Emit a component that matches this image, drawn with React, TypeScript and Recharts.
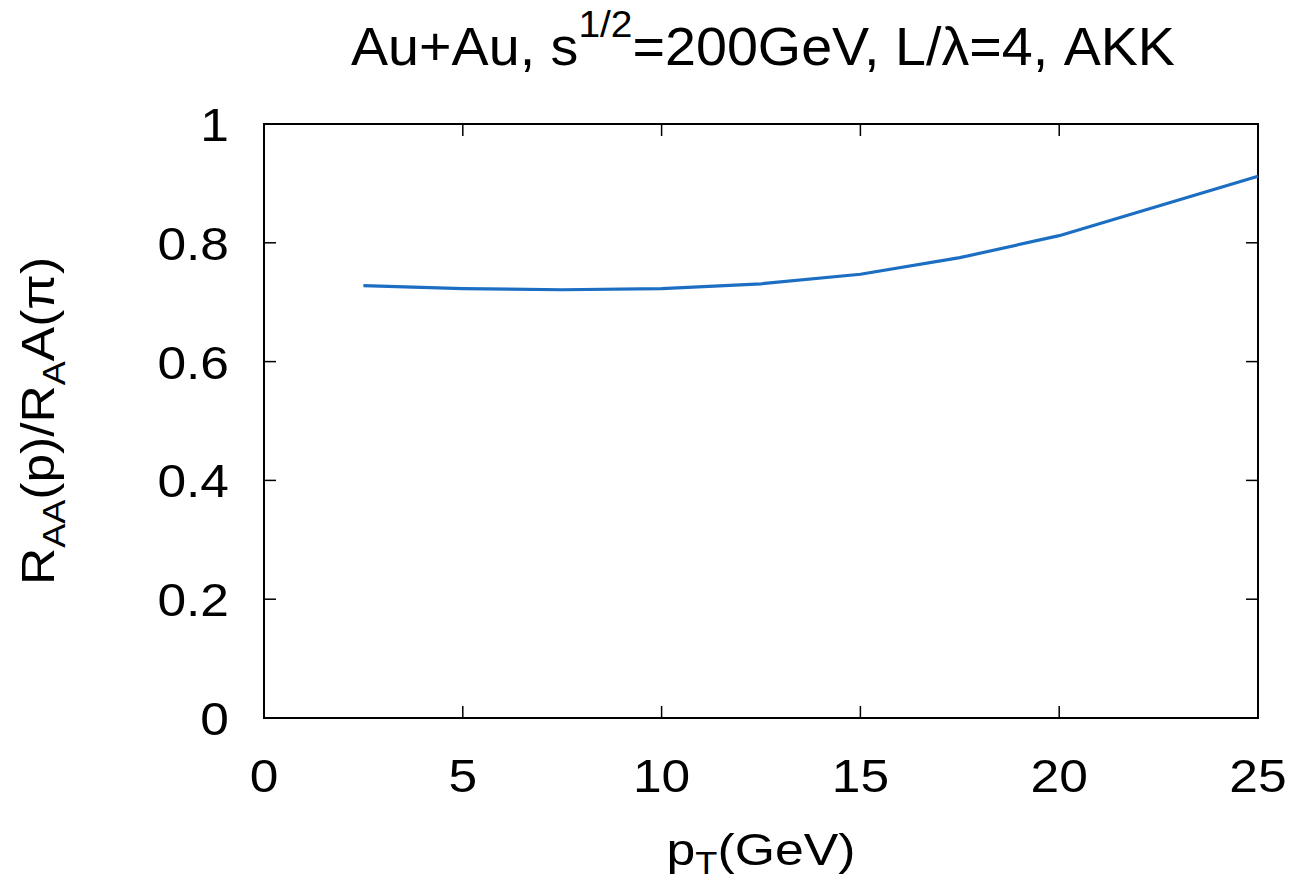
import React from "react";
import { LineChart, Line, XAxis, YAxis, ReferenceArea } from "recharts";

// curve
const ptValues = [2.5, 5, 7.5, 10, 12.5, 15, 17.5, 20, 22.5, 25];
const ratioValues = [0.728, 0.723, 0.721, 0.723, 0.731, 0.747, 0.775, 0.812, 0.862, 0.912];

const xTicks = [0, 5, 10, 15, 20, 25];
const yTicks = [0, 0.2, 0.4, 0.6, 0.8, 1];

const W = 1301;
const H = 883;
const MARGIN = { top: 124, right: 43, bottom: 0, left: 0 };
const Y_AXIS_W = 264;
const X_AXIS_H = 165;
const PLOT_W = W - Y_AXIS_W - MARGIN.right;
const PLOT_H = H - MARGIN.top - X_AXIS_H;

const FONT = '"Liberation Sans", Arial, Helvetica, sans-serif';
const TICK_LEN = 12;

const data = ptValues.map((pt, i) => ({ pt, ratio: ratioValues[i] }));

function XTick(props: any) {
    const { x, y, payload } = props;
    return (
        <g>
            <line x1={x} x2={x} y1={y} y2={y - TICK_LEN} stroke="#000" strokeWidth={1.5} />
            <line x1={x} x2={x} y1={y - PLOT_H} y2={y - PLOT_H + TICK_LEN} stroke="#000" strokeWidth={1.5} />
            <text
                transform={`translate(${x},${y + 74}) scale(1.12,1)`}
                textAnchor="middle"
                fontSize={46}
                fontFamily={FONT}
                fill="#000"
            >
                {payload.value}
            </text>
        </g>
    );
}

function YTick(props: any) {
    const { x, y, payload } = props;
    return (
        <g>
            <line x1={x} x2={x + TICK_LEN} y1={y} y2={y} stroke="#000" strokeWidth={1.5} />
            <line x1={x + PLOT_W} x2={x + PLOT_W - TICK_LEN} y1={y} y2={y} stroke="#000" strokeWidth={1.5} />
            <text
                transform={`translate(${x - 35},${y + 17}) scale(1.12,1)`}
                textAnchor="end"
                fontSize={46}
                fontFamily={FONT}
                fill="#000"
            >
                {String(payload.value)}
            </text>
        </g>
    );
}

const sub = (s: string, drop = "0.35em") => (
    <span style={{ fontSize: "0.7em", position: "relative", top: drop }}>{s}</span>
);

export default function App() {
    return (
        <div style={{ position: "absolute", left: 0, top: 0, width: W, height: H, background: "#fff", fontFamily: FONT }}>
            {/* title */}
            <div
                style={{
                    position: "absolute",
                    left: 763,
                    top: 20,
                    fontSize: 53,
                    lineHeight: 1,
                    whiteSpace: "nowrap",
                    transform: "translateX(-50%) scaleX(1.05)",
                }}
            >
                Au+Au, s
                <span style={{ fontSize: "0.7em", position: "relative", top: "-0.75em" }}>1/2</span>
                =200GeV, L/λ=4, AKK
            </div>

            <LineChart width={W} height={H} data={data} margin={MARGIN}>
                <XAxis
                    dataKey="pt"
                    type="number"
                    domain={[0, 25]}
                    ticks={xTicks}
                    height={X_AXIS_H}
                    axisLine={false}
                    tickLine={false}
                    tickSize={0}
                    tickMargin={0}
                    tick={<XTick />}
                    interval={0}
                />
                <YAxis
                    type="number"
                    domain={[0, 1]}
                    ticks={yTicks}
                    width={Y_AXIS_W}
                    axisLine={false}
                    tickLine={false}
                    tickSize={0}
                    tickMargin={0}
                    tick={<YTick />}
                    interval={0}
                />
                <ReferenceArea x1={0} x2={25} y1={0} y2={1} fill="none" stroke="#000" strokeWidth={2} />
                <Line
                    dataKey="ratio"
                    type="linear"
                    stroke="#1b6ec2"
                    strokeWidth={3.2}
                    dot={false}
                    isAnimationActive={false}
                />
            </LineChart>

            {/* x label */}
            <div
                style={{
                    position: "absolute",
                    left: 761,
                    top: 827,
                    fontSize: 45,
                    lineHeight: 1,
                    whiteSpace: "nowrap",
                    transform: "translateX(-50%) scaleX(1.15)",
                }}
            >
                p{sub("T", "0.28em")}(GeV)
            </div>

            {/* y label */}
            <div
                style={{
                    position: "absolute",
                    left: 38,
                    top: 421,
                    fontSize: 46,
                    lineHeight: 1,
                    whiteSpace: "nowrap",
                    transform: "translate(-50%,-50%) rotate(-90deg) scaleX(1.12)",
                }}
            >
                R{sub("AA")}(p)/R{sub("A")}A(π)
            </div>
        </div>
    );
}
